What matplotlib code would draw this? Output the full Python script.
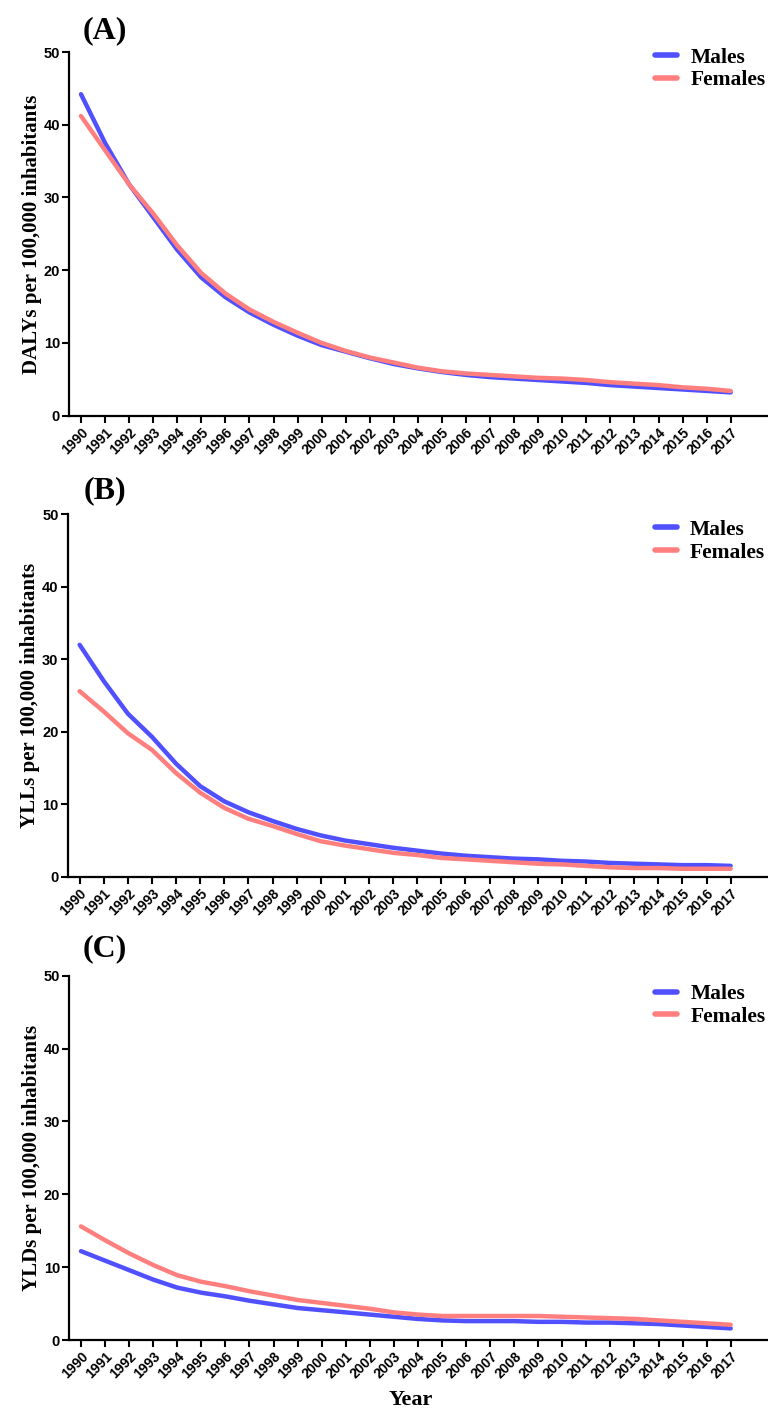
import numpy as np
import matplotlib.pyplot as plt

# years on the x axis
years = np.arange(1990, 2018)

# (A) DALYs per 100,000
daly_m = [44.2, 37.5, 31.8, 27.3, 22.8, 19.0, 16.3, 14.2, 12.5, 11.0, 9.7, 8.8, 7.9, 7.1,
          6.5, 6.0, 5.6, 5.3, 5.1, 4.9, 4.7, 4.5, 4.2, 4.0, 3.8, 3.6, 3.4, 3.2]
daly_f = [41.2, 36.5, 31.8, 27.8, 23.4, 19.6, 16.8, 14.6, 12.9, 11.4, 10.0, 8.9, 8.0, 7.3,
          6.6, 6.1, 5.8, 5.6, 5.4, 5.2, 5.1, 4.9, 4.6, 4.4, 4.2, 3.9, 3.7, 3.4]

# (B) YLLs per 100,000
yll_m = [32.0, 27.0, 22.5, 19.3, 15.6, 12.5, 10.4, 8.9, 7.7, 6.6, 5.7, 5.0, 4.5, 4.0,
         3.6, 3.2, 2.9, 2.7, 2.5, 2.4, 2.2, 2.1, 1.9, 1.8, 1.7, 1.6, 1.6, 1.5]
yll_f = [25.6, 22.8, 19.8, 17.5, 14.3, 11.6, 9.5, 8.0, 7.0, 5.9, 4.9, 4.3, 3.8, 3.3,
         3.0, 2.6, 2.4, 2.2, 2.0, 1.8, 1.7, 1.5, 1.3, 1.2, 1.2, 1.1, 1.1, 1.1]

# (C) YLDs per 100,000
yld_m = [12.2, 10.9, 9.6, 8.3, 7.2, 6.5, 6.0, 5.4, 4.9, 4.4, 4.1, 3.8, 3.5, 3.2,
         2.9, 2.7, 2.6, 2.6, 2.6, 2.5, 2.5, 2.4, 2.4, 2.3, 2.2, 2.0, 1.8, 1.6]
yld_f = [15.6, 13.7, 11.9, 10.3, 8.9, 8.0, 7.4, 6.7, 6.1, 5.5, 5.1, 4.7, 4.3, 3.8,
         3.5, 3.3, 3.3, 3.3, 3.3, 3.3, 3.2, 3.1, 3.0, 2.9, 2.7, 2.5, 2.3, 2.1]

panels = ['(A)', '(B)', '(C)']
ylabels = ['DALYs per 100,000 inhabitants', 'YLLs per 100,000 inhabitants',
           'YLDs per 100,000 inhabitants']
males = [daly_m, yll_m, yld_m]
females = [daly_f, yll_f, yld_f]

c_male = '#5050ff'
c_female = '#ff7f7f'
serif = 'Liberation Serif'
sans = 'Liberation Sans'

fig = plt.figure(figsize=(7.68, 14.1), dpi=100)

# axes boxes in figure fractions: left, bottom, width, height
boxes = [(0.0898, 0.7052, 0.9102, 0.2579),
         (0.0880, 0.3782, 0.9120, 0.2570),
         (0.0898, 0.0496, 0.9102, 0.2584)]
label_y = [0.978, 0.652, 0.327]
leg_y = [1.012, 0.985, 0.977]

for i in range(3):
    ax = fig.add_axes(boxes[i])
    ax.plot(years, males[i], color=c_male, lw=3.2, label='Males', solid_capstyle='round')
    ax.plot(years, females[i], color=c_female, lw=3.2, label='Females', solid_capstyle='round')

    ax.set_xlim(1989.5, 2018.55)
    ax.set_ylim(0, 50)
    ax.set_yticks([0, 10, 20, 30, 40, 50])
    ax.set_xticks(years)
    ax.set_xticklabels([str(y) for y in years], rotation=45, ha='right',
                       rotation_mode='anchor', fontsize=10, fontweight='bold', family=sans)
    for t in ax.get_yticklabels():
        t.set_fontsize(10.5)
        t.set_fontweight('bold')
        t.set_family(sans)

    for s in ['top', 'right']:
        ax.spines[s].set_visible(False)
    for s in ['left', 'bottom']:
        ax.spines[s].set_linewidth(1.6)
    ax.tick_params(direction='out', length=5, width=1.5, pad=1.5)
    ax.tick_params(axis='x', pad=2)

    ax.set_ylabel(ylabels[i], fontsize=15, fontweight='bold', family=serif)
    ax.yaxis.set_label_coords(-0.039, 0.5)

    leg = ax.legend(loc='upper left', bbox_to_anchor=(0.838, leg_y[i]), frameon=False,
                    prop={'family': serif, 'weight': 'bold', 'size': 15.5},
                    handlelength=1.05, handletextpad=0.6, labelspacing=0.12,
                    borderpad=0, borderaxespad=0)
    for h in leg.get_lines():
        h.set_linewidth(4)

    fig.text(0.137, label_y[i], panels[i], fontsize=23, fontweight='bold',
             family=serif, ha='center', va='center')

fig.text(0.535, 0.0, 'Year', fontsize=16, fontweight='bold', family=serif,
         ha='center', va='bottom')

plt.savefig('out.png', dpi=100)
